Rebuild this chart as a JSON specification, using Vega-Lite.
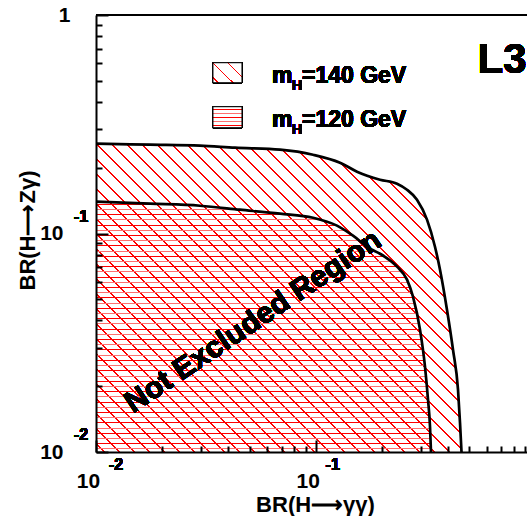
{
  "$schema": "https://vega.github.io/schema/vega-lite/v6.json",
  "width": 431,
  "height": 437,
  "autosize": {"type": "none"},
  "padding": {"left": 96, "top": 15, "right": 0, "bottom": 64},
  "background": "white",
  "config": {
    "view": {"stroke": "black", "strokeWidth": 2, "strokeDash": [431, 3000]},
    "font": "Liberation Sans"
  },
  "data": {
    "values": [
      {"br_gg": 0.01, "br_zg": 0.2576, "mass": "140"},
      {"br_gg": 0.01761, "br_zg": 0.2549, "mass": "140"},
      {"br_gg": 0.02974, "br_zg": 0.2522, "mass": "140"},
      {"br_gg": 0.04293, "br_zg": 0.2470, "mass": "140"},
      {"br_gg": 0.06879, "br_zg": 0.2418, "mass": "140"},
      {"br_gg": 0.09721, "br_zg": 0.2294, "mass": "140"},
      {"br_gg": 0.1290, "br_zg": 0.2109, "mass": "140"},
      {"br_gg": 0.1542, "br_zg": 0.1918, "mass": "140"},
      {"br_gg": 0.1962, "br_zg": 0.1763, "mass": "140"},
      {"br_gg": 0.2345, "br_zg": 0.1690, "mass": "140"},
      {"br_gg": 0.2604, "br_zg": 0.1586, "mass": "140"},
      {"br_gg": 0.2891, "br_zg": 0.1428, "mass": "140"},
      {"br_gg": 0.3211, "br_zg": 0.1157, "mass": "140"},
      {"br_gg": 0.3491, "br_zg": 0.0870, "mass": "140"},
      {"br_gg": 0.3680, "br_zg": 0.0683, "mass": "140"},
      {"br_gg": 0.3959, "br_zg": 0.0448, "mass": "140"},
      {"br_gg": 0.4217, "br_zg": 0.02938, "mass": "140"},
      {"br_gg": 0.4444, "br_zg": 0.01928, "mass": "140"},
      {"br_gg": 0.4538, "br_zg": 0.01362, "mass": "140"},
      {"br_gg": 0.4610, "br_zg": 0.01, "mass": "140"},
      {"br_gg": 0.01, "br_zg": 0.1398, "mass": "120"},
      {"br_gg": 0.01761, "br_zg": 0.1369, "mass": "120"},
      {"br_gg": 0.02974, "br_zg": 0.1340, "mass": "120"},
      {"br_gg": 0.04522, "br_zg": 0.1285, "mass": "120"},
      {"br_gg": 0.06879, "br_zg": 0.1232, "mass": "120"},
      {"br_gg": 0.09721, "br_zg": 0.1181, "mass": "120"},
      {"br_gg": 0.1250, "br_zg": 0.1086, "mass": "120"},
      {"br_gg": 0.1478, "br_zg": 0.0977, "mass": "120"},
      {"br_gg": 0.1767, "br_zg": 0.0852, "mass": "120"},
      {"br_gg": 0.1962, "br_zg": 0.0808, "mass": "120"},
      {"br_gg": 0.2345, "br_zg": 0.0705, "mass": "120"},
      {"br_gg": 0.2604, "br_zg": 0.0615, "mass": "120"},
      {"br_gg": 0.2772, "br_zg": 0.0514, "mass": "120"},
      {"br_gg": 0.2984, "br_zg": 0.0363, "mass": "120"},
      {"br_gg": 0.3144, "br_zg": 0.02458, "mass": "120"},
      {"br_gg": 0.3245, "br_zg": 0.01735, "mass": "120"},
      {"br_gg": 0.3314, "br_zg": 0.01305, "mass": "120"},
      {"br_gg": 0.3348, "br_zg": 0.01, "mass": "120"}
    ]
  },
  "layer": [
    {
      "transform": [{"filter": "datum.mass == '140'"}],
      "mark": {
        "type": "area",
        "interpolate": "monotone",
        "fill": {
          "gradient": "linear", "x1": 0, "y1": 1, "x2": 1, "y2": 0.157,
          "stops": [
            {"offset": 0, "color": "white"},
            {"offset": 0.012, "color": "white"}, {"offset": 0.012, "color": "#ff0000"}, {"offset": 0.0145, "color": "#ff0000"}, {"offset": 0.0145, "color": "white"},
            {"offset": 0.036, "color": "white"}, {"offset": 0.036, "color": "#ff0000"}, {"offset": 0.0385, "color": "#ff0000"}, {"offset": 0.0385, "color": "white"},
            {"offset": 0.060, "color": "white"}, {"offset": 0.060, "color": "#ff0000"}, {"offset": 0.0625, "color": "#ff0000"}, {"offset": 0.0625, "color": "white"},
            {"offset": 0.084, "color": "white"}, {"offset": 0.084, "color": "#ff0000"}, {"offset": 0.0865, "color": "#ff0000"}, {"offset": 0.0865, "color": "white"},
            {"offset": 0.108, "color": "white"}, {"offset": 0.108, "color": "#ff0000"}, {"offset": 0.1105, "color": "#ff0000"}, {"offset": 0.1105, "color": "white"},
            {"offset": 0.132, "color": "white"}, {"offset": 0.132, "color": "#ff0000"}, {"offset": 0.1345, "color": "#ff0000"}, {"offset": 0.1345, "color": "white"},
            {"offset": 0.156, "color": "white"}, {"offset": 0.156, "color": "#ff0000"}, {"offset": 0.1585, "color": "#ff0000"}, {"offset": 0.1585, "color": "white"},
            {"offset": 0.180, "color": "white"}, {"offset": 0.180, "color": "#ff0000"}, {"offset": 0.1825, "color": "#ff0000"}, {"offset": 0.1825, "color": "white"},
            {"offset": 0.204, "color": "white"}, {"offset": 0.204, "color": "#ff0000"}, {"offset": 0.2065, "color": "#ff0000"}, {"offset": 0.2065, "color": "white"},
            {"offset": 0.228, "color": "white"}, {"offset": 0.228, "color": "#ff0000"}, {"offset": 0.2305, "color": "#ff0000"}, {"offset": 0.2305, "color": "white"},
            {"offset": 0.252, "color": "white"}, {"offset": 0.252, "color": "#ff0000"}, {"offset": 0.2545, "color": "#ff0000"}, {"offset": 0.2545, "color": "white"},
            {"offset": 0.276, "color": "white"}, {"offset": 0.276, "color": "#ff0000"}, {"offset": 0.2785, "color": "#ff0000"}, {"offset": 0.2785, "color": "white"},
            {"offset": 0.300, "color": "white"}, {"offset": 0.300, "color": "#ff0000"}, {"offset": 0.3025, "color": "#ff0000"}, {"offset": 0.3025, "color": "white"},
            {"offset": 0.324, "color": "white"}, {"offset": 0.324, "color": "#ff0000"}, {"offset": 0.3265, "color": "#ff0000"}, {"offset": 0.3265, "color": "white"},
            {"offset": 0.348, "color": "white"}, {"offset": 0.348, "color": "#ff0000"}, {"offset": 0.3505, "color": "#ff0000"}, {"offset": 0.3505, "color": "white"},
            {"offset": 0.372, "color": "white"}, {"offset": 0.372, "color": "#ff0000"}, {"offset": 0.3745, "color": "#ff0000"}, {"offset": 0.3745, "color": "white"},
            {"offset": 0.396, "color": "white"}, {"offset": 0.396, "color": "#ff0000"}, {"offset": 0.3985, "color": "#ff0000"}, {"offset": 0.3985, "color": "white"},
            {"offset": 0.420, "color": "white"}, {"offset": 0.420, "color": "#ff0000"}, {"offset": 0.4225, "color": "#ff0000"}, {"offset": 0.4225, "color": "white"},
            {"offset": 0.444, "color": "white"}, {"offset": 0.444, "color": "#ff0000"}, {"offset": 0.4465, "color": "#ff0000"}, {"offset": 0.4465, "color": "white"},
            {"offset": 0.468, "color": "white"}, {"offset": 0.468, "color": "#ff0000"}, {"offset": 0.4705, "color": "#ff0000"}, {"offset": 0.4705, "color": "white"},
            {"offset": 0.492, "color": "white"}, {"offset": 0.492, "color": "#ff0000"}, {"offset": 0.4945, "color": "#ff0000"}, {"offset": 0.4945, "color": "white"},
            {"offset": 0.516, "color": "white"}, {"offset": 0.516, "color": "#ff0000"}, {"offset": 0.5185, "color": "#ff0000"}, {"offset": 0.5185, "color": "white"},
            {"offset": 0.540, "color": "white"}, {"offset": 0.540, "color": "#ff0000"}, {"offset": 0.5425, "color": "#ff0000"}, {"offset": 0.5425, "color": "white"},
            {"offset": 0.564, "color": "white"}, {"offset": 0.564, "color": "#ff0000"}, {"offset": 0.5665, "color": "#ff0000"}, {"offset": 0.5665, "color": "white"},
            {"offset": 0.588, "color": "white"}, {"offset": 0.588, "color": "#ff0000"}, {"offset": 0.5905, "color": "#ff0000"}, {"offset": 0.5905, "color": "white"},
            {"offset": 0.612, "color": "white"}, {"offset": 0.612, "color": "#ff0000"}, {"offset": 0.6145, "color": "#ff0000"}, {"offset": 0.6145, "color": "white"},
            {"offset": 0.636, "color": "white"}, {"offset": 0.636, "color": "#ff0000"}, {"offset": 0.6385, "color": "#ff0000"}, {"offset": 0.6385, "color": "white"},
            {"offset": 0.660, "color": "white"}, {"offset": 0.660, "color": "#ff0000"}, {"offset": 0.6625, "color": "#ff0000"}, {"offset": 0.6625, "color": "white"},
            {"offset": 0.684, "color": "white"}, {"offset": 0.684, "color": "#ff0000"}, {"offset": 0.6865, "color": "#ff0000"}, {"offset": 0.6865, "color": "white"},
            {"offset": 0.708, "color": "white"}, {"offset": 0.708, "color": "#ff0000"}, {"offset": 0.7105, "color": "#ff0000"}, {"offset": 0.7105, "color": "white"},
            {"offset": 0.732, "color": "white"}, {"offset": 0.732, "color": "#ff0000"}, {"offset": 0.7345, "color": "#ff0000"}, {"offset": 0.7345, "color": "white"},
            {"offset": 0.756, "color": "white"}, {"offset": 0.756, "color": "#ff0000"}, {"offset": 0.7585, "color": "#ff0000"}, {"offset": 0.7585, "color": "white"},
            {"offset": 0.780, "color": "white"}, {"offset": 0.780, "color": "#ff0000"}, {"offset": 0.7825, "color": "#ff0000"}, {"offset": 0.7825, "color": "white"},
            {"offset": 0.804, "color": "white"}, {"offset": 0.804, "color": "#ff0000"}, {"offset": 0.8065, "color": "#ff0000"}, {"offset": 0.8065, "color": "white"},
            {"offset": 0.828, "color": "white"}, {"offset": 0.828, "color": "#ff0000"}, {"offset": 0.8305, "color": "#ff0000"}, {"offset": 0.8305, "color": "white"},
            {"offset": 0.852, "color": "white"}, {"offset": 0.852, "color": "#ff0000"}, {"offset": 0.8545, "color": "#ff0000"}, {"offset": 0.8545, "color": "white"},
            {"offset": 0.876, "color": "white"}, {"offset": 0.876, "color": "#ff0000"}, {"offset": 0.8785, "color": "#ff0000"}, {"offset": 0.8785, "color": "white"},
            {"offset": 0.900, "color": "white"}, {"offset": 0.900, "color": "#ff0000"}, {"offset": 0.9025, "color": "#ff0000"}, {"offset": 0.9025, "color": "white"},
            {"offset": 0.924, "color": "white"}, {"offset": 0.924, "color": "#ff0000"}, {"offset": 0.9265, "color": "#ff0000"}, {"offset": 0.9265, "color": "white"},
            {"offset": 0.948, "color": "white"}, {"offset": 0.948, "color": "#ff0000"}, {"offset": 0.9505, "color": "#ff0000"}, {"offset": 0.9505, "color": "white"},
            {"offset": 0.972, "color": "white"}, {"offset": 0.972, "color": "#ff0000"}, {"offset": 0.9745, "color": "#ff0000"}, {"offset": 0.9745, "color": "white"},
            {"offset": 0.996, "color": "white"}, {"offset": 0.996, "color": "#ff0000"}, {"offset": 0.9985, "color": "#ff0000"}, {"offset": 0.9985, "color": "white"},
            {"offset": 1, "color": "white"}
          ]
        }
      },
      "encoding": {
        "x": {
          "field": "br_gg", "type": "quantitative",
          "scale": {"type": "log", "domain": [0.01, 0.9158], "nice": false},
          "axis": {
            "title": "BR(H⟶γγ)",
            "values": [0.01, 0.02, 0.03, 0.04, 0.05, 0.06, 0.07, 0.08, 0.09, 0.1, 0.2, 0.3, 0.4, 0.5, 0.6, 0.7, 0.8, 0.9],
            "labelExpr": "abs(log(datum.value)/LN10 - round(log(datum.value)/LN10)) < 0.001 ? '10' : ''",
            "labelFont": "Liberation Sans", "labelFontWeight": "bold", "labelFontSize": 21, "labelColor": "black",
            "labelBaseline": "alphabetic", "labelAlign": "center",
            "labelPadding": 47, "labelOffset": -8,
            "labelFlush": false, "labelOverlap": false, "labelBound": false,
            "tickSize": {"condition": {"test": "abs(log(datum.value)/LN10 - round(log(datum.value)/LN10)) < 0.001", "value": -12}, "value": -6},
            "tickColor": "black", "tickWidth": 2,
            "domainColor": "black", "domainWidth": 2,
            "grid": false, "zindex": 1,
            "titleFont": "Liberation Sans", "titleFontWeight": "bold", "titleFontSize": 22, "titleColor": "black",
            "titleBaseline": "alphabetic", "titleAlign": "center", "titleX": 219, "titleY": 59
          }
        },
        "y": {
          "field": "br_zg", "type": "quantitative",
          "scale": {"type": "log", "domain": [0.01, 1], "nice": false},
          "axis": {
            "title": "BR(H⟶Zγ)",
            "values": [0.01, 0.02, 0.03, 0.04, 0.05, 0.06, 0.07, 0.08, 0.09, 0.1, 0.2, 0.3, 0.4, 0.5, 0.6, 0.7, 0.8, 0.9, 1],
            "labelExpr": "datum.value == 1 ? '1' : (abs(log(datum.value)/LN10 - round(log(datum.value)/LN10)) < 0.001 ? '10' : '')",
            "labelFont": "Liberation Sans", "labelFontWeight": "bold", "labelFontSize": 21, "labelColor": "black",
            "labelAlign": "right", "labelBaseline": "middle",
            "labelPadding": {"condition": {"test": "datum.value == 1", "value": 38}, "value": 45},
            "labelFlush": false, "labelOverlap": false, "labelBound": false,
            "tickSize": {"condition": {"test": "abs(log(datum.value)/LN10 - round(log(datum.value)/LN10)) < 0.001", "value": -12}, "value": -6},
            "tickColor": "black", "tickWidth": 2,
            "domainColor": "black", "domainWidth": 2,
            "grid": false, "zindex": 1,
            "titleFont": "Liberation Sans", "titleFontWeight": "bold", "titleFontSize": 22, "titleColor": "black",
            "titleAngle": 270, "titleBaseline": "alphabetic", "titleAlign": "center", "titleX": -62, "titleY": 215
          }
        },
        "y2": {"datum": 0.01}
      }
    },
    {
      "transform": [{"filter": "datum.mass == '120'"}],
      "mark": {
        "type": "area",
        "interpolate": "monotone",
        "fill": {
          "gradient": "linear", "x1": 0, "y1": 0, "x2": 0, "y2": 1,
          "stops": [
            {"offset": 0, "color": "rgba(255,255,255,0)"},
            {"offset": 0.008, "color": "rgba(255,255,255,0)"}, {"offset": 0.008, "color": "#ff0000"}, {"offset": 0.012, "color": "#ff0000"}, {"offset": 0.012, "color": "rgba(255,255,255,0)"},
            {"offset": 0.0288, "color": "rgba(255,255,255,0)"}, {"offset": 0.0288, "color": "#ff7070"}, {"offset": 0.0328, "color": "#ff7070"}, {"offset": 0.0328, "color": "rgba(255,255,255,0)"},
            {"offset": 0.0496, "color": "rgba(255,255,255,0)"}, {"offset": 0.0496, "color": "#ff0000"}, {"offset": 0.0536, "color": "#ff0000"}, {"offset": 0.0536, "color": "rgba(255,255,255,0)"},
            {"offset": 0.0704, "color": "rgba(255,255,255,0)"}, {"offset": 0.0704, "color": "#ff7070"}, {"offset": 0.0744, "color": "#ff7070"}, {"offset": 0.0744, "color": "rgba(255,255,255,0)"},
            {"offset": 0.0912, "color": "rgba(255,255,255,0)"}, {"offset": 0.0912, "color": "#ff0000"}, {"offset": 0.0952, "color": "#ff0000"}, {"offset": 0.0952, "color": "rgba(255,255,255,0)"},
            {"offset": 0.112, "color": "rgba(255,255,255,0)"}, {"offset": 0.112, "color": "#ff7070"}, {"offset": 0.116, "color": "#ff7070"}, {"offset": 0.116, "color": "rgba(255,255,255,0)"},
            {"offset": 0.1328, "color": "rgba(255,255,255,0)"}, {"offset": 0.1328, "color": "#ff0000"}, {"offset": 0.1368, "color": "#ff0000"}, {"offset": 0.1368, "color": "rgba(255,255,255,0)"},
            {"offset": 0.1536, "color": "rgba(255,255,255,0)"}, {"offset": 0.1536, "color": "#ff7070"}, {"offset": 0.1576, "color": "#ff7070"}, {"offset": 0.1576, "color": "rgba(255,255,255,0)"},
            {"offset": 0.1744, "color": "rgba(255,255,255,0)"}, {"offset": 0.1744, "color": "#ff0000"}, {"offset": 0.1784, "color": "#ff0000"}, {"offset": 0.1784, "color": "rgba(255,255,255,0)"},
            {"offset": 0.1952, "color": "rgba(255,255,255,0)"}, {"offset": 0.1952, "color": "#ff7070"}, {"offset": 0.1992, "color": "#ff7070"}, {"offset": 0.1992, "color": "rgba(255,255,255,0)"},
            {"offset": 0.216, "color": "rgba(255,255,255,0)"}, {"offset": 0.216, "color": "#ff0000"}, {"offset": 0.22, "color": "#ff0000"}, {"offset": 0.22, "color": "rgba(255,255,255,0)"},
            {"offset": 0.2368, "color": "rgba(255,255,255,0)"}, {"offset": 0.2368, "color": "#ff7070"}, {"offset": 0.2408, "color": "#ff7070"}, {"offset": 0.2408, "color": "rgba(255,255,255,0)"},
            {"offset": 0.2576, "color": "rgba(255,255,255,0)"}, {"offset": 0.2576, "color": "#ff0000"}, {"offset": 0.2616, "color": "#ff0000"}, {"offset": 0.2616, "color": "rgba(255,255,255,0)"},
            {"offset": 0.2784, "color": "rgba(255,255,255,0)"}, {"offset": 0.2784, "color": "#ff7070"}, {"offset": 0.2824, "color": "#ff7070"}, {"offset": 0.2824, "color": "rgba(255,255,255,0)"},
            {"offset": 0.2992, "color": "rgba(255,255,255,0)"}, {"offset": 0.2992, "color": "#ff0000"}, {"offset": 0.3032, "color": "#ff0000"}, {"offset": 0.3032, "color": "rgba(255,255,255,0)"},
            {"offset": 0.32, "color": "rgba(255,255,255,0)"}, {"offset": 0.32, "color": "#ff7070"}, {"offset": 0.324, "color": "#ff7070"}, {"offset": 0.324, "color": "rgba(255,255,255,0)"},
            {"offset": 0.3408, "color": "rgba(255,255,255,0)"}, {"offset": 0.3408, "color": "#ff0000"}, {"offset": 0.3448, "color": "#ff0000"}, {"offset": 0.3448, "color": "rgba(255,255,255,0)"},
            {"offset": 0.3616, "color": "rgba(255,255,255,0)"}, {"offset": 0.3616, "color": "#ff7070"}, {"offset": 0.3656, "color": "#ff7070"}, {"offset": 0.3656, "color": "rgba(255,255,255,0)"},
            {"offset": 0.3824, "color": "rgba(255,255,255,0)"}, {"offset": 0.3824, "color": "#ff0000"}, {"offset": 0.3864, "color": "#ff0000"}, {"offset": 0.3864, "color": "rgba(255,255,255,0)"},
            {"offset": 0.4032, "color": "rgba(255,255,255,0)"}, {"offset": 0.4032, "color": "#ff7070"}, {"offset": 0.4072, "color": "#ff7070"}, {"offset": 0.4072, "color": "rgba(255,255,255,0)"},
            {"offset": 0.424, "color": "rgba(255,255,255,0)"}, {"offset": 0.424, "color": "#ff0000"}, {"offset": 0.428, "color": "#ff0000"}, {"offset": 0.428, "color": "rgba(255,255,255,0)"},
            {"offset": 0.4448, "color": "rgba(255,255,255,0)"}, {"offset": 0.4448, "color": "#ff7070"}, {"offset": 0.4488, "color": "#ff7070"}, {"offset": 0.4488, "color": "rgba(255,255,255,0)"},
            {"offset": 0.4656, "color": "rgba(255,255,255,0)"}, {"offset": 0.4656, "color": "#ff0000"}, {"offset": 0.4696, "color": "#ff0000"}, {"offset": 0.4696, "color": "rgba(255,255,255,0)"},
            {"offset": 0.4864, "color": "rgba(255,255,255,0)"}, {"offset": 0.4864, "color": "#ff7070"}, {"offset": 0.4904, "color": "#ff7070"}, {"offset": 0.4904, "color": "rgba(255,255,255,0)"},
            {"offset": 0.5072, "color": "rgba(255,255,255,0)"}, {"offset": 0.5072, "color": "#ff0000"}, {"offset": 0.5112, "color": "#ff0000"}, {"offset": 0.5112, "color": "rgba(255,255,255,0)"},
            {"offset": 0.528, "color": "rgba(255,255,255,0)"}, {"offset": 0.528, "color": "#ff7070"}, {"offset": 0.532, "color": "#ff7070"}, {"offset": 0.532, "color": "rgba(255,255,255,0)"},
            {"offset": 0.5488, "color": "rgba(255,255,255,0)"}, {"offset": 0.5488, "color": "#ff0000"}, {"offset": 0.5528, "color": "#ff0000"}, {"offset": 0.5528, "color": "rgba(255,255,255,0)"},
            {"offset": 0.5696, "color": "rgba(255,255,255,0)"}, {"offset": 0.5696, "color": "#ff7070"}, {"offset": 0.5736, "color": "#ff7070"}, {"offset": 0.5736, "color": "rgba(255,255,255,0)"},
            {"offset": 0.5904, "color": "rgba(255,255,255,0)"}, {"offset": 0.5904, "color": "#ff0000"}, {"offset": 0.5944, "color": "#ff0000"}, {"offset": 0.5944, "color": "rgba(255,255,255,0)"},
            {"offset": 0.6112, "color": "rgba(255,255,255,0)"}, {"offset": 0.6112, "color": "#ff7070"}, {"offset": 0.6152, "color": "#ff7070"}, {"offset": 0.6152, "color": "rgba(255,255,255,0)"},
            {"offset": 0.632, "color": "rgba(255,255,255,0)"}, {"offset": 0.632, "color": "#ff0000"}, {"offset": 0.636, "color": "#ff0000"}, {"offset": 0.636, "color": "rgba(255,255,255,0)"},
            {"offset": 0.6528, "color": "rgba(255,255,255,0)"}, {"offset": 0.6528, "color": "#ff7070"}, {"offset": 0.6568, "color": "#ff7070"}, {"offset": 0.6568, "color": "rgba(255,255,255,0)"},
            {"offset": 0.6736, "color": "rgba(255,255,255,0)"}, {"offset": 0.6736, "color": "#ff0000"}, {"offset": 0.6776, "color": "#ff0000"}, {"offset": 0.6776, "color": "rgba(255,255,255,0)"},
            {"offset": 0.6944, "color": "rgba(255,255,255,0)"}, {"offset": 0.6944, "color": "#ff7070"}, {"offset": 0.6984, "color": "#ff7070"}, {"offset": 0.6984, "color": "rgba(255,255,255,0)"},
            {"offset": 0.7152, "color": "rgba(255,255,255,0)"}, {"offset": 0.7152, "color": "#ff0000"}, {"offset": 0.7192, "color": "#ff0000"}, {"offset": 0.7192, "color": "rgba(255,255,255,0)"},
            {"offset": 0.736, "color": "rgba(255,255,255,0)"}, {"offset": 0.736, "color": "#ff7070"}, {"offset": 0.74, "color": "#ff7070"}, {"offset": 0.74, "color": "rgba(255,255,255,0)"},
            {"offset": 0.7568, "color": "rgba(255,255,255,0)"}, {"offset": 0.7568, "color": "#ff0000"}, {"offset": 0.7608, "color": "#ff0000"}, {"offset": 0.7608, "color": "rgba(255,255,255,0)"},
            {"offset": 0.7776, "color": "rgba(255,255,255,0)"}, {"offset": 0.7776, "color": "#ff7070"}, {"offset": 0.7816, "color": "#ff7070"}, {"offset": 0.7816, "color": "rgba(255,255,255,0)"},
            {"offset": 0.7984, "color": "rgba(255,255,255,0)"}, {"offset": 0.7984, "color": "#ff0000"}, {"offset": 0.8024, "color": "#ff0000"}, {"offset": 0.8024, "color": "rgba(255,255,255,0)"},
            {"offset": 0.8192, "color": "rgba(255,255,255,0)"}, {"offset": 0.8192, "color": "#ff7070"}, {"offset": 0.8232, "color": "#ff7070"}, {"offset": 0.8232, "color": "rgba(255,255,255,0)"},
            {"offset": 0.84, "color": "rgba(255,255,255,0)"}, {"offset": 0.84, "color": "#ff0000"}, {"offset": 0.844, "color": "#ff0000"}, {"offset": 0.844, "color": "rgba(255,255,255,0)"},
            {"offset": 0.8608, "color": "rgba(255,255,255,0)"}, {"offset": 0.8608, "color": "#ff7070"}, {"offset": 0.8648, "color": "#ff7070"}, {"offset": 0.8648, "color": "rgba(255,255,255,0)"},
            {"offset": 0.8816, "color": "rgba(255,255,255,0)"}, {"offset": 0.8816, "color": "#ff0000"}, {"offset": 0.8856, "color": "#ff0000"}, {"offset": 0.8856, "color": "rgba(255,255,255,0)"},
            {"offset": 0.9024, "color": "rgba(255,255,255,0)"}, {"offset": 0.9024, "color": "#ff7070"}, {"offset": 0.9064, "color": "#ff7070"}, {"offset": 0.9064, "color": "rgba(255,255,255,0)"},
            {"offset": 0.9232, "color": "rgba(255,255,255,0)"}, {"offset": 0.9232, "color": "#ff0000"}, {"offset": 0.9272, "color": "#ff0000"}, {"offset": 0.9272, "color": "rgba(255,255,255,0)"},
            {"offset": 0.944, "color": "rgba(255,255,255,0)"}, {"offset": 0.944, "color": "#ff7070"}, {"offset": 0.948, "color": "#ff7070"}, {"offset": 0.948, "color": "rgba(255,255,255,0)"},
            {"offset": 0.9648, "color": "rgba(255,255,255,0)"}, {"offset": 0.9648, "color": "#ff0000"}, {"offset": 0.9688, "color": "#ff0000"}, {"offset": 0.9688, "color": "rgba(255,255,255,0)"},
            {"offset": 0.9856, "color": "rgba(255,255,255,0)"}, {"offset": 0.9856, "color": "#ff7070"}, {"offset": 0.9896, "color": "#ff7070"}, {"offset": 0.9896, "color": "rgba(255,255,255,0)"},
            {"offset": 1, "color": "rgba(255,255,255,0)"}
          ]
        }
      },
      "encoding": {
        "x": {"field": "br_gg", "type": "quantitative"},
        "y": {"field": "br_zg", "type": "quantitative"},
        "y2": {"datum": 0.01}
      }
    },
    {
      "mark": {"type": "line", "interpolate": "monotone", "color": "black", "strokeWidth": 2.7},
      "encoding": {
        "x": {"field": "br_gg", "type": "quantitative"},
        "y": {"field": "br_zg", "type": "quantitative"},
        "detail": {"field": "mass", "type": "nominal"}
      }
    },
    {
      "mark": {"type": "text", "text": "Not Excluded Region", "font": "Liberation Sans", "fontWeight": "bold", "fontSize": 30, "angle": -34, "align": "center", "baseline": "middle", "color": "black"},
      "encoding": {"x": {"datum": 0.05184}, "y": {"datum": 0.03947}}
    },
    {
      "mark": {
        "type": "rect", "stroke": "black", "strokeWidth": 1,
        "fill": {
          "gradient": "linear", "x1": 0, "y1": 1, "x2": 1, "y2": 0.31,
          "stops": [
            {"offset": 0, "color": "white"},
            {"offset": 0.1, "color": "white"}, {"offset": 0.1, "color": "#ff0000"}, {"offset": 0.135, "color": "#ff0000"}, {"offset": 0.135, "color": "white"},
            {"offset": 0.45, "color": "white"}, {"offset": 0.45, "color": "#ff0000"}, {"offset": 0.485, "color": "#ff0000"}, {"offset": 0.485, "color": "white"},
            {"offset": 0.8, "color": "white"}, {"offset": 0.8, "color": "#ff0000"}, {"offset": 0.835, "color": "#ff0000"}, {"offset": 0.835, "color": "white"},
            {"offset": 1, "color": "white"}
          ]
        }
      },
      "encoding": {"x": {"datum": 0.03407}, "x2": {"datum": 0.04618}, "y": {"datum": 0.6047}, "y2": {"datum": 0.4898}}
    },
    {
      "mark": {
        "type": "rect", "stroke": "black", "strokeWidth": 1,
        "fill": {
          "gradient": "linear", "x1": 0, "y1": 0, "x2": 0, "y2": 1,
          "stops": [
            {"offset": 0, "color": "white"},
            {"offset": 0.09, "color": "white"}, {"offset": 0.09, "color": "#ff0000"}, {"offset": 0.14, "color": "#ff0000"}, {"offset": 0.14, "color": "white"},
            {"offset": 0.29, "color": "white"}, {"offset": 0.29, "color": "#ff7070"}, {"offset": 0.34, "color": "#ff7070"}, {"offset": 0.34, "color": "white"},
            {"offset": 0.48, "color": "white"}, {"offset": 0.48, "color": "#ff0000"}, {"offset": 0.53, "color": "#ff0000"}, {"offset": 0.53, "color": "white"},
            {"offset": 0.67, "color": "white"}, {"offset": 0.67, "color": "#ff7070"}, {"offset": 0.72, "color": "#ff7070"}, {"offset": 0.72, "color": "white"},
            {"offset": 0.86, "color": "white"}, {"offset": 0.86, "color": "#ff0000"}, {"offset": 0.91, "color": "#ff0000"}, {"offset": 0.91, "color": "white"},
            {"offset": 1, "color": "white"}
          ]
        }
      },
      "encoding": {"x": {"datum": 0.03407}, "x2": {"datum": 0.04618}, "y": {"datum": 0.3804}, "y2": {"datum": 0.3049}}
    },
    {
      "mark": {"type": "text", "text": "m", "font": "Liberation Sans", "fontWeight": "bold", "fontSize": 23, "align": "left", "baseline": "alphabetic", "color": "black"},
      "encoding": {"x": {"datum": 0.06326}, "y": {"datum": 0.4898}}
    },
    {
      "mark": {"type": "text", "text": "H", "font": "Liberation Sans", "fontWeight": "bold", "fontSize": 14, "align": "left", "baseline": "alphabetic", "color": "black"},
      "encoding": {"x": {"datum": 0.078}, "y": {"datum": 0.455}}
    },
    {
      "mark": {"type": "text", "text": "=140 GeV", "font": "Liberation Sans", "fontWeight": "bold", "fontSize": 23, "align": "left", "baseline": "alphabetic", "color": "black"},
      "encoding": {"x": {"datum": 0.08661}, "y": {"datum": 0.4898}}
    },
    {
      "mark": {"type": "text", "text": "m", "font": "Liberation Sans", "fontWeight": "bold", "fontSize": 23, "align": "left", "baseline": "alphabetic", "color": "black"},
      "encoding": {"x": {"datum": 0.06326}, "y": {"datum": 0.3082}}
    },
    {
      "mark": {"type": "text", "text": "H", "font": "Liberation Sans", "fontWeight": "bold", "fontSize": 14, "align": "left", "baseline": "alphabetic", "color": "black"},
      "encoding": {"x": {"datum": 0.078}, "y": {"datum": 0.2862}}
    },
    {
      "mark": {"type": "text", "text": "=120 GeV", "font": "Liberation Sans", "fontWeight": "bold", "fontSize": 23, "align": "left", "baseline": "alphabetic", "color": "black"},
      "encoding": {"x": {"datum": 0.08661}, "y": {"datum": 0.3082}}
    },
    {
      "mark": {"type": "text", "text": "L3", "font": "Liberation Sans", "fontWeight": "bold", "fontSize": 42, "align": "left", "baseline": "alphabetic", "color": "black"},
      "encoding": {"x": {"datum": 0.545}, "y": {"datum": 0.5445}}
    },
    {
      "mark": {"type": "text", "text": "-2", "dx": 20, "dy": 13, "font": "Liberation Sans", "fontWeight": "bold", "fontSize": 16, "align": "center", "baseline": "middle", "color": "black"},
      "encoding": {"x": {"datum": 0.01}, "y": {"datum": 0.01}}
    },
    {
      "mark": {"type": "text", "text": "-1", "dx": 17, "dy": 13, "font": "Liberation Sans", "fontWeight": "bold", "fontSize": 16, "align": "center", "baseline": "middle", "color": "black"},
      "encoding": {"x": {"datum": 0.1}, "y": {"datum": 0.01}}
    },
    {
      "mark": {"type": "text", "text": "-1", "dx": -15, "dy": -17, "font": "Liberation Sans", "fontWeight": "bold", "fontSize": 16, "align": "center", "baseline": "middle", "color": "black"},
      "encoding": {"x": {"datum": 0.01}, "y": {"datum": 0.1}}
    },
    {
      "mark": {"type": "text", "text": "-2", "dx": -15, "dy": -17, "font": "Liberation Sans", "fontWeight": "bold", "fontSize": 16, "align": "center", "baseline": "middle", "color": "black"},
      "encoding": {"x": {"datum": 0.01}, "y": {"datum": 0.01}}
    }
  ]
}
